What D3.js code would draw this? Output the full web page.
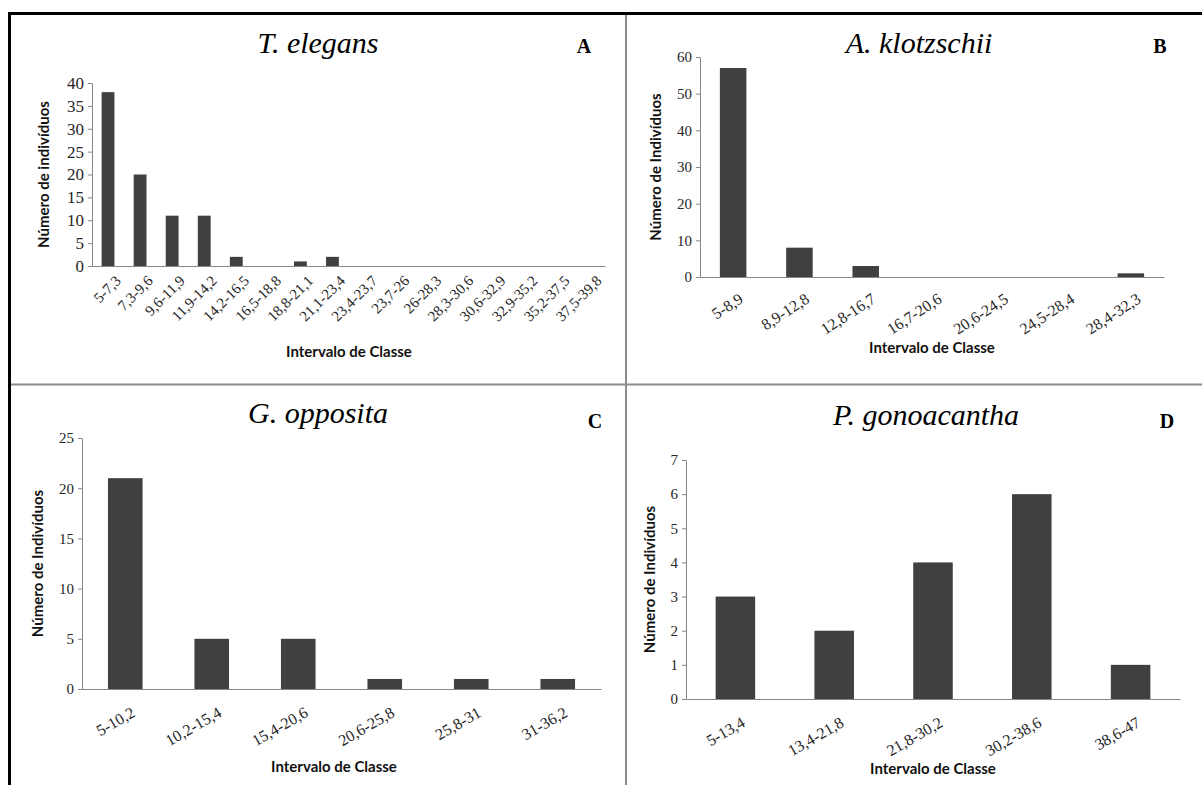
<!DOCTYPE html>
<html>
<head>
<meta charset="utf-8">
<script src="https://cdn.jsdelivr.net/npm/d3@7"></script>
<style>
  body { margin: 0; background: #fff; }
  svg { display: block; }
</style>
</head>
<body>
<script>
// class intervals and number of individuals, per species
const classesA = ["5-7,3", "7,3-9,6", "9,6-11,9", "11,9-14,2", "14,2-16,5", "16,5-18,8", "18,8-21,1", "21,1-23,4",
  "23,4-23,7", "23,7-26", "26-28,3", "28,3-30,6", "30,6-32,9", "32,9-35,2", "35,2-37,5", "37,5-39,8"];
const countsA = [38, 20, 11, 11, 2, 0, 1, 2, 0, 0, 0, 0, 0, 0, 0, 0];
const ticksA = [0, 5, 10, 15, 20, 25, 30, 35, 40];

const classesB = ["5-8,9", "8,9-12,8", "12,8-16,7", "16,7-20,6", "20,6-24,5", "24,5-28,4", "28,4-32,3"];
const countsB = [57, 8, 3, 0, 0, 0, 1];
const ticksB = [0, 10, 20, 30, 40, 50, 60];

const classesC = ["5-10,2", "10,2-15,4", "15,4-20,6", "20,6-25,8", "25,8-31", "31-36,2"];
const countsC = [21, 5, 5, 1, 1, 1];
const ticksC = [0, 5, 10, 15, 20, 25];

const classesD = ["5-13,4", "13,4-21,8", "21,8-30,2", "30,2-38,6", "38,6-47"];
const countsD = [3, 2, 4, 6, 1];
const ticksD = [0, 1, 2, 3, 4, 5, 6, 7];

const w = 1202;
const h = 785;

const svg = d3.select("body")
  .append("svg")
  .attr("width", w)
  .attr("height", h);

// frame: thick black top/left, thin gray dividers
svg.append("line").attr("x1", 626).attr("x2", 626).attr("y1", 15).attr("y2", h)
  .style("stroke", "#8c8c8c").style("stroke-width", 2);
svg.append("line").attr("x1", 10).attr("x2", w).attr("y1", 384.5).attr("y2", 384.5)
  .style("stroke", "#8c8c8c").style("stroke-width", 2);
svg.append("line").attr("x1", 8).attr("x2", w).attr("y1", 13.5).attr("y2", 13.5)
  .style("stroke", "#000").style("stroke-width", 3);
svg.append("line").attr("x1", 9.5).attr("x2", 9.5).attr("y1", 12).attr("y2", h)
  .style("stroke", "#000").style("stroke-width", 3);

const panels = [
  { classes: classesA, counts: countsA, ticks: ticksA, title: "T. elegans", letter: "A",
    yTitle: "Número de indivíduos",
    x0: 92, x1: 605, yTop: 83, yBase: 266, angle: -45, lx: 10, ly: 12, xFont: 15, yFont: 17,
    titleX: 318, titleY: 53, letterX: 584, letterY: 53, yTitleX: 44, xTitleX: 349, xTitleY: 357 },
  { classes: classesB, counts: countsB, ticks: ticksB, title: "A. klotzschii", letter: "B",
    yTitle: "Número de Indivíduos",
    x0: 700, x1: 1164, yTop: 57, yBase: 277, angle: -33, lx: 8, ly: 20, xFont: 16, yFont: 15,
    titleX: 919, titleY: 53, letterX: 1160, letterY: 53, yTitleX: 656, xTitleX: 932, xTitleY: 353 },
  { classes: classesC, counts: countsC, ticks: ticksC, title: "G. opposita", letter: "C",
    yTitle: "Número de Indivíduos",
    x0: 82, x1: 601, yTop: 438, yBase: 689, angle: -30, lx: 8, ly: 22, xFont: 16, yFont: 15,
    titleX: 318, titleY: 423, letterX: 595, letterY: 428, yTitleX: 38, xTitleX: 334, xTitleY: 772 },
  { classes: classesD, counts: countsD, ticks: ticksD, title: "P. gonoacantha", letter: "D",
    yTitle: "Número de Indivíduos",
    x0: 686, x1: 1180, yTop: 460, yBase: 699, angle: -30, lx: 8, ly: 22, xFont: 16, yFont: 15,
    titleX: 926, titleY: 425, letterX: 1167, letterY: 428, yTitleX: 650, xTitleX: 933, xTitleY: 774 }
];

panels.forEach(p => drawPanel(p));

function drawPanel(p) {
  const g = svg.append("g");

  const x = d3.scaleBand()
    .domain(p.classes)
    .range([p.x0, p.x1])
    .paddingInner(0.6)
    .paddingOuter(0.3);

  const y = d3.scaleLinear()
    .domain([0, d3.max(p.ticks)])
    .range([p.yBase, p.yTop]);

  // y axis
  const yAxis = g.append("g")
    .attr("transform", `translate(${p.x0},0)`)
    .call(d3.axisLeft(y).tickValues(p.ticks).tickFormat(d3.format("d"))
      .tickSize(4).tickSizeOuter(0).tickPadding(4));
  yAxis.select(".domain").style("stroke", "#868686");
  yAxis.selectAll(".tick line").style("stroke", "#868686");
  yAxis.selectAll("text")
    .style("font-family", "'Liberation Serif', 'Times New Roman', serif")
    .style("font-size", p.yFont + "px")
    .style("fill", "#262626");

  // bars
  g.selectAll("rect")
    .data(p.counts)
    .enter()
    .append("rect")
    .attr("x", (d, i) => x(p.classes[i]))
    .attr("width", x.bandwidth())
    .attr("y", d => y(d))
    .attr("height", d => y(0) - y(d))
    .style("fill", "#404040");

  // x axis
  const xAxis = g.append("g")
    .attr("transform", `translate(0,${p.yBase})`)
    .call(d3.axisBottom(x).tickSize(0).tickSizeOuter(0));
  xAxis.select(".domain").style("stroke", "#868686");
  xAxis.selectAll("text")
    .attr("x", 0)
    .attr("y", 0)
    .attr("dy", "0.35em")
    .attr("text-anchor", "end")
    .attr("transform", `translate(${p.lx},${p.ly}) rotate(${p.angle})`)
    .style("font-family", "'Liberation Serif', 'Times New Roman', serif")
    .style("font-size", p.xFont + "px")
    .style("fill", "#262626");

  // titles
  g.append("text")
    .attr("x", p.titleX)
    .attr("y", p.titleY)
    .attr("text-anchor", "middle")
    .style("font-family", "'Liberation Serif', 'Times New Roman', serif")
    .style("font-style", "italic")
    .style("font-size", "30px")
    .text(p.title);

  g.append("text")
    .attr("x", p.letterX)
    .attr("y", p.letterY)
    .attr("text-anchor", "middle")
    .style("font-family", "'Liberation Serif', 'Times New Roman', serif")
    .style("font-weight", "bold")
    .style("font-size", "20px")
    .text(p.letter);

  g.append("text")
    .attr("transform", `translate(${p.yTitleX},${(p.yTop + p.yBase) / 2}) rotate(-90)`)
    .attr("text-anchor", "middle")
    .attr("dy", "0.35em")
    .style("font-family", "Lato, 'Open Sans', sans-serif")
    .style("font-weight", "bold")
    .style("font-size", "15px")
    .style("fill", "#111")
    .text(p.yTitle);

  g.append("text")
    .attr("x", p.xTitleX)
    .attr("y", p.xTitleY)
    .attr("text-anchor", "middle")
    .style("font-family", "Lato, 'Open Sans', sans-serif")
    .style("font-weight", "bold")
    .style("font-size", "15px")
    .style("fill", "#111")
    .text("Intervalo de Classe");
}
</script>
</body>
</html>
